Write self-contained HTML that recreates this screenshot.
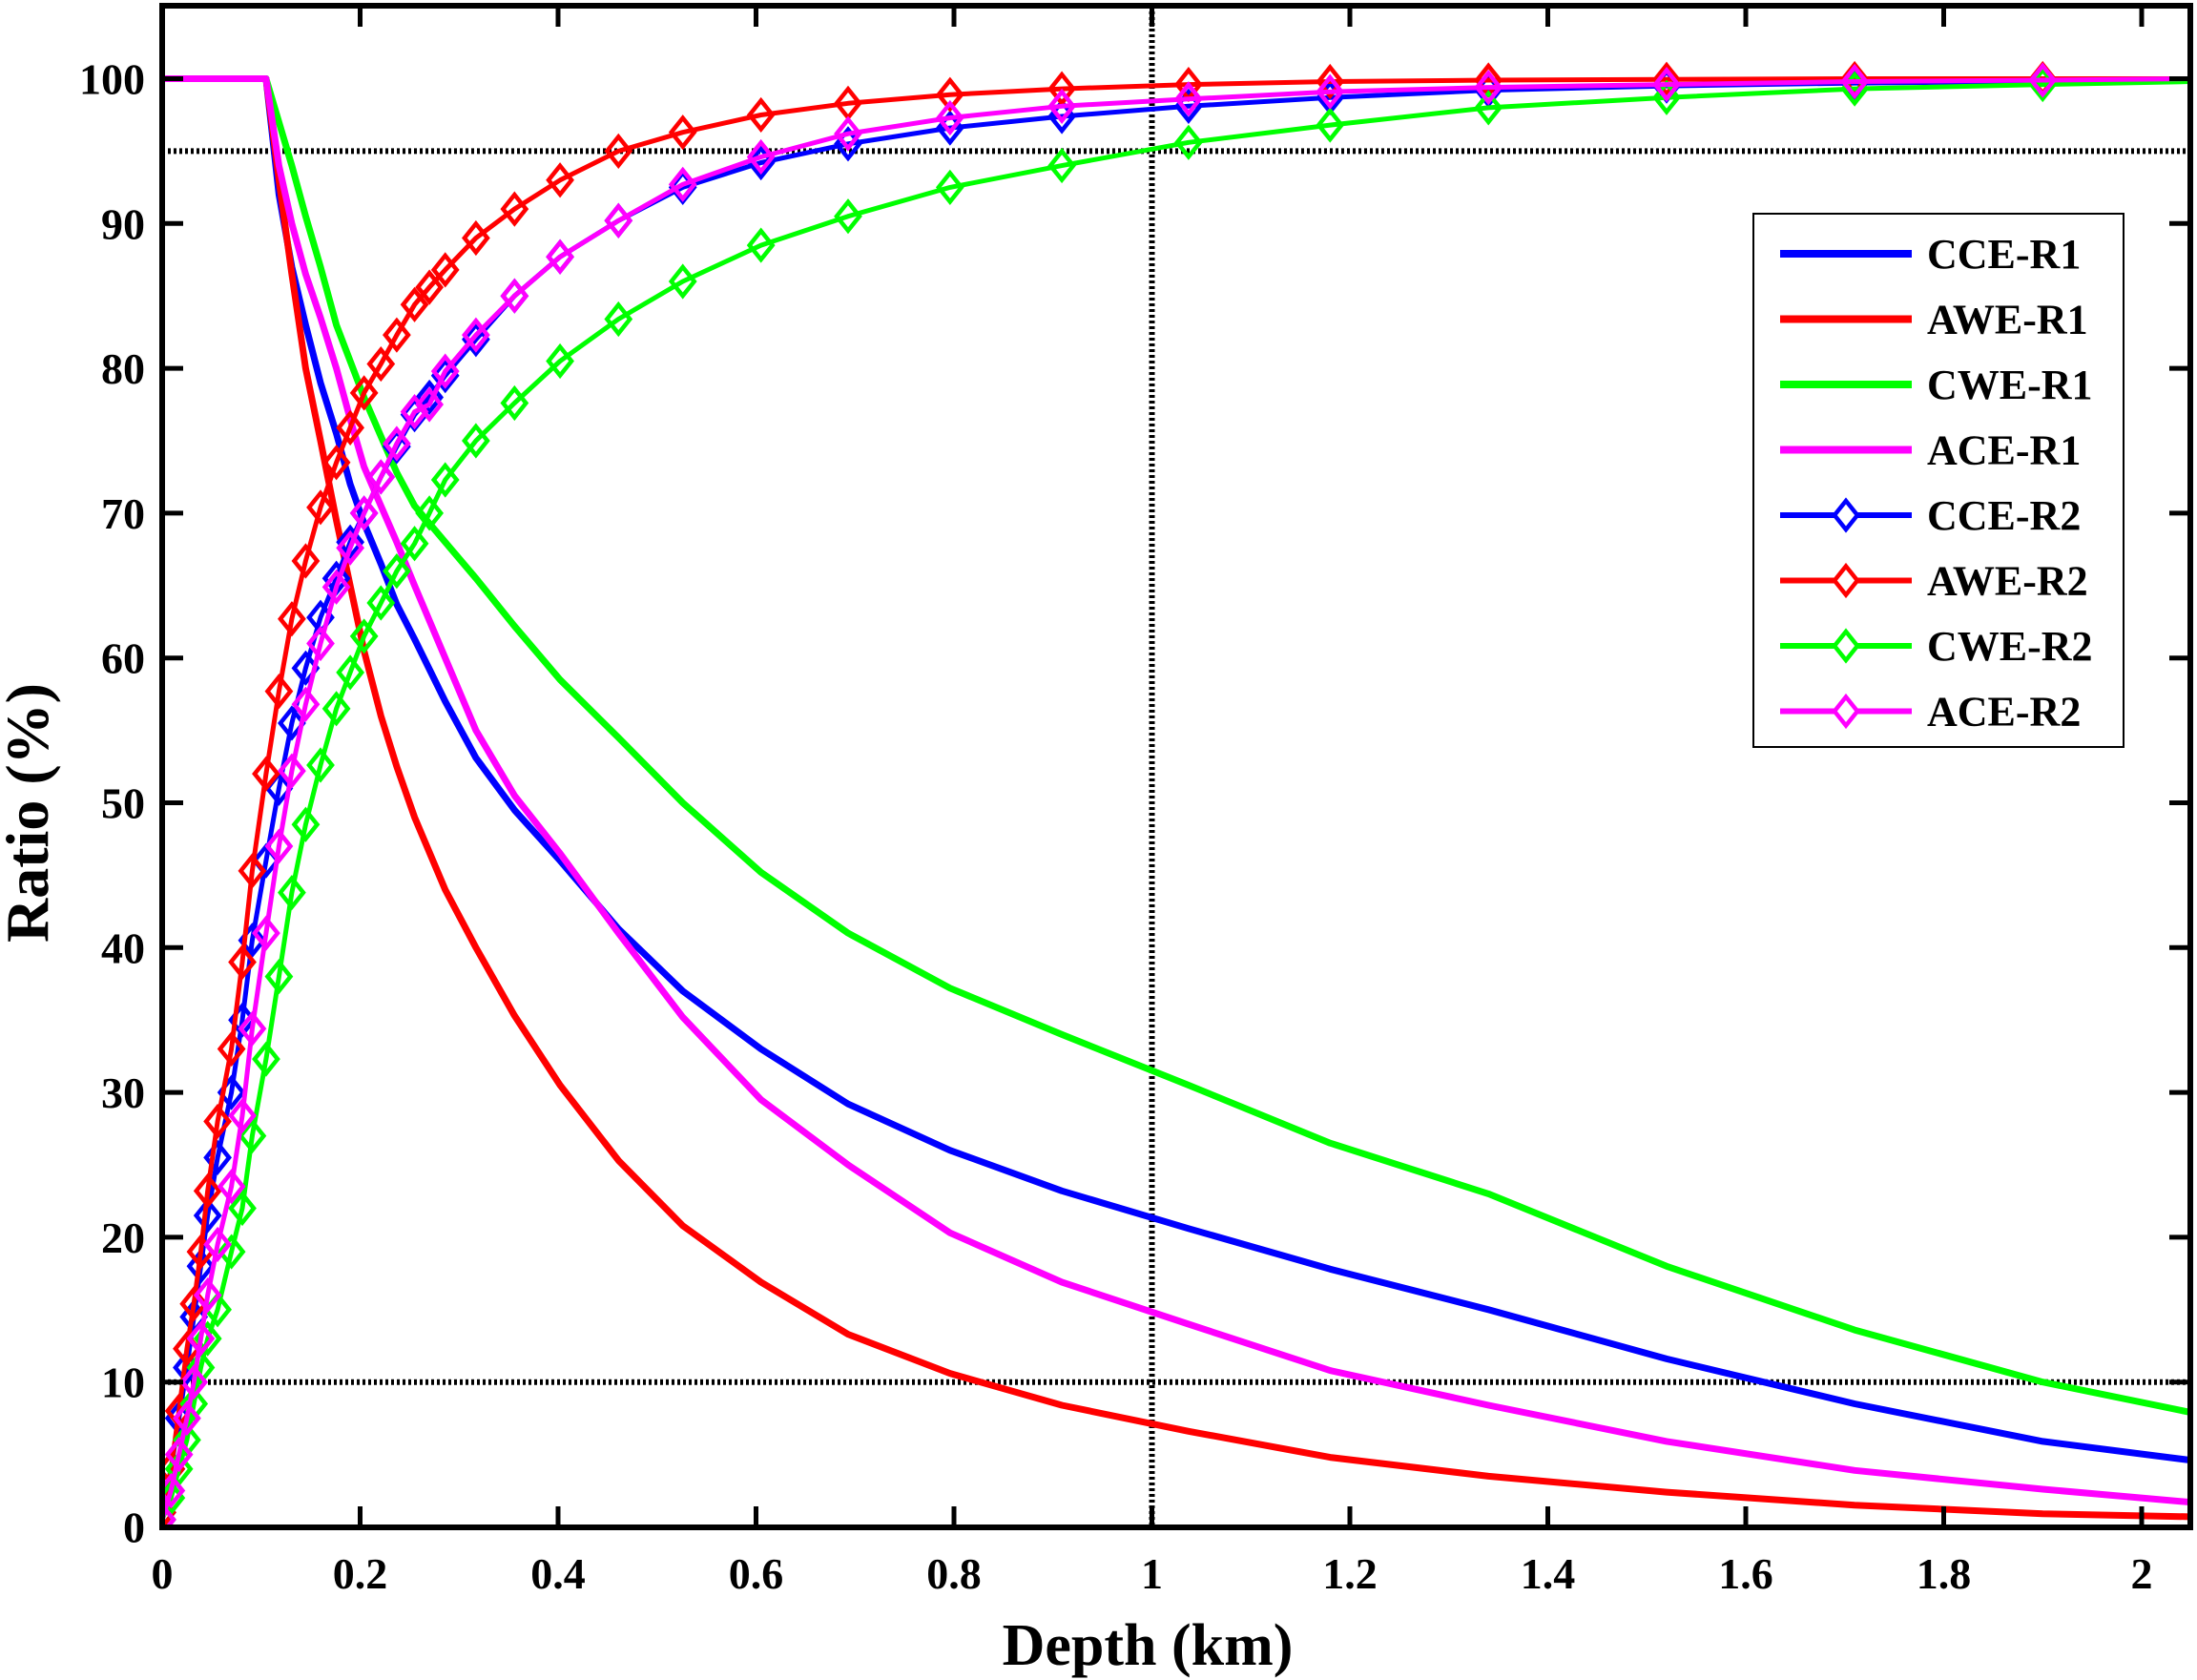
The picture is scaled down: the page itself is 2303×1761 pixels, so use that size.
<!DOCTYPE html>
<html><head><meta charset="utf-8"><style>
html,body{margin:0;padding:0;background:#fff;}
svg{display:block;font-family:"Liberation Serif",serif;font-weight:bold;}
</style></head><body>
<svg id="chart" width="2303" height="1761" viewBox="0 0 2303 1761" xmlns="http://www.w3.org/2000/svg">
<defs><clipPath id="plotclip"><rect x="170" y="6" width="2126" height="1595"/></clipPath></defs>
<g id="grid"></g>
<g id="series" clip-path="url(#plotclip)"></g>
<g id="axes"></g>
<g id="legend"></g>
</svg>
<script>
const xTicks=[0,0.2,0.4,0.6,0.8,1,1.2,1.4,1.6,1.8,2];
const xTickLabels=["0","0.2","0.4","0.6","0.8","1","1.2","1.4","1.6","1.8","2"];
const yTicks=[0,10,20,30,40,50,60,70,80,90,100];
const yTickLabels=["0","10","20","30","40","50","60","70","80","90","100"];
const refY=[95,10];
const refX=[1];
const xs1=[0,0.105,0.118,0.131,0.145,0.160,0.176,0.190,0.204,0.221,0.237,0.255,0.286,0.317,0.356,0.402,0.461,0.526,0.605,0.693,0.796,0.909,1.037,1.18,1.34,1.52,1.71,1.9,2.05];
const cceR1=[100,100,92,87,83,79,75.5,72,69.3,66.5,63.7,61.3,57,53.1,49.5,46,41.3,37,33,29.2,26,23.2,20.6,17.8,15,11.6,8.5,5.9,4.6];
const aweR1=[100,100,93,86.5,80,75,69.5,65,60.5,56,52.5,49,44,40,35.3,30.5,25.3,20.8,16.9,13.3,10.6,8.4,6.6,4.8,3.5,2.4,1.5,0.9,0.7];
const cweR1=[100,100,97,94,90.5,87,83,80.5,78,75.3,72.8,70.5,68,65.5,62.2,58.5,54.5,50,45.2,41,37.2,34,30.5,26.5,23,18,13.6,10,7.9];
const aceR1=[100,100,94,90,86.5,83.5,80,76.5,73.2,70.5,68,65,60,55,50.5,46.5,41,35.2,29.5,25,20.3,16.9,14,10.8,8.4,5.9,3.9,2.6,1.7];
const xs2=[0,0.009,0.017,0.025,0.032,0.039,0.046,0.056,0.070,0.081,0.091,0.105,0.118,0.131,0.145,0.160,0.176,0.190,0.204,0.221,0.237,0.255,0.27,0.286,0.317,0.356,0.402,0.461,0.526,0.605,0.693,0.796,0.909,1.037,1.18,1.34,1.52,1.71,1.9,2.05];
const cceR2=[1,4,7.5,11,14.5,18,21.5,25.5,30,35,40.5,46,51,55.5,59.3,62.8,65.5,68,70,72.5,74.6,76.8,78,79.5,82,85,87.7,90.2,92.5,94.2,95.5,96.6,97.4,98.1,98.7,99.2,99.5,99.7,99.8,99.9];
const aweR2=[1,4,8,12.3,15.4,19,23.2,28,33,39,45.3,52,57.7,62.7,66.7,70.4,73.5,75.9,78.3,80.3,82.3,84.4,85.6,86.8,89,91,93,95,96.3,97.5,98.3,98.9,99.3,99.6,99.8,99.9,99.95,100,100,100];
const cweR2=[0.5,2,4,6,8.5,11,13,15,19,22,27,32.3,38,43.8,48.5,52.6,56.5,59,61.5,63.8,66,67.9,70,72.3,75,77.6,80.5,83.4,86,88.5,90.5,92.5,94,95.6,96.8,98,98.7,99.3,99.6,99.8];
const aceR2=[0.5,2.5,5,7.5,10,13,16,19.5,23.5,28.4,34.4,41,47,52.2,56.8,61,64.9,67.6,70,72.5,74.8,77,77.5,79.8,82.3,85,87.7,90.2,92.7,94.6,96.2,97.3,98.1,98.6,99.1,99.4,99.6,99.8,99.9,100];
const seriesNames=["CCE-R1","AWE-R1","CWE-R1","ACE-R1","CCE-R2","AWE-R2","CWE-R2","ACE-R2"];

const X0=170,XS=1037.5,Y0=1600.5,YS=15.18;
const L=170,R=2296,T=6,B=1601;
function sx(v){return X0+v*XS;}
function sy(v){return Y0-v*YS;}
const NS="http://www.w3.org/2000/svg";
function mk(tag,attrs,parent){const e=document.createElementNS(NS,tag);for(const k in attrs)e.setAttribute(k,attrs[k]);parent.appendChild(e);return e;}
const grid=document.getElementById('grid'),ser=document.getElementById('series'),axes=document.getElementById('axes'),leg=document.getElementById('legend');

refY.forEach(v=>{const l=mk('line',{x1:L,x2:R,y1:sy(v),y2:sy(v),stroke:'#000','stroke-width':6,'stroke-dasharray':'3 3'},grid);

});
refX.forEach(v=>{const l=mk('line',{x1:sx(v),x2:sx(v),y1:T,y2:B,stroke:'#000','stroke-width':6,'stroke-dasharray':'3 3'},grid);

});

const defs=[
 {xs:xs1,ys:cceR1,c:'#0000ff',m:false},{xs:xs1,ys:aweR1,c:'#ff0000',m:false},{xs:xs1,ys:cweR1,c:'#00ff00',m:false},{xs:xs1,ys:aceR1,c:'#ff00ff',m:false},
 {xs:xs2,ys:cceR2,c:'#0000ff',m:true},{xs:xs2,ys:aweR2,c:'#ff0000',m:true},{xs:xs2,ys:cweR2,c:'#00ff00',m:true},{xs:xs2,ys:aceR2,c:'#ff00ff',m:true}];
function diamond(x,y){return `M${x},${y-15} L${x+12},${y} L${x},${y+15} L${x-12},${y} Z`;}
defs.forEach((d,i)=>{
 const g=mk('g',{},ser);
 
 
 const pts=d.xs.map((x,j)=>sx(x).toFixed(1)+','+sy(d.ys[j]).toFixed(1)).join(' ');
 const pl=mk('polyline',{points:pts,fill:'none',stroke:d.c,'stroke-width':d.m?5:7,'stroke-linejoin':'round'},g);
 
 
 if(d.m){d.xs.forEach((x,j)=>{if(x>2.0)return;const p=mk('path',{d:diamond(sx(x),sy(d.ys[j])),fill:'none',stroke:d.c,'stroke-width':4.5},g);
  
  });}
});

const frame=mk('rect',{x:L,y:T,width:R-L,height:B-T,fill:'none',stroke:'#000','stroke-width':6},axes);


xTicks.forEach((v,i)=>{
 const x=sx(v);
 const t1=mk('line',{x1:x,x2:x,y1:B,y2:B-22,stroke:'#000','stroke-width':5},axes);
 
 
 const t2=mk('line',{x1:x,x2:x,y1:T,y2:T+22,stroke:'#000','stroke-width':5},axes);
 
 
 const tx=mk('text',{x:x,y:1665,'text-anchor':'middle','font-size':46},axes);tx.textContent=xTickLabels[i];
 
 
});
yTicks.forEach((v,i)=>{
 const y=sy(v);
 const t1=mk('line',{x1:L,x2:L+22,y1:y,y2:y,stroke:'#000','stroke-width':5},axes);
 
 
 const t2=mk('line',{x1:R,x2:R-22,y1:y,y2:y,stroke:'#000','stroke-width':5},axes);
 
 
 const tx=mk('text',{x:152,y:y+16,'text-anchor':'end','font-size':46},axes);tx.textContent=yTickLabels[i];
 
 
});
const xt=mk('text',{x:1203,y:1745,'text-anchor':'middle','font-size':62},axes);xt.textContent='Depth (km)';


const yt=mk('text',{x:0,y:0,'text-anchor':'middle','font-size':64,transform:'translate(50,852) rotate(-90)'},axes);yt.textContent='Ratio (%)';



const lb=mk('rect',{x:1838,y:224,width:388,height:559,fill:'#fff',stroke:'#000','stroke-width':2},leg);


defs.forEach((d,i)=>{
 const y=266+i*68.5;
 const g=mk('g',{},leg);
 
 
 mk('line',{x1:1866,x2:2004,y1:y,y2:y,stroke:d.c,'stroke-width':d.m?6:8},g);
 if(d.m)mk('path',{d:diamond(1935,y),fill:'#fff',stroke:d.c,'stroke-width':4.5},g);
 const t=mk('text',{x:2020,y:y+15,'font-size':44},g);t.textContent=seriesNames[i];
});
</script>
</body></html>
